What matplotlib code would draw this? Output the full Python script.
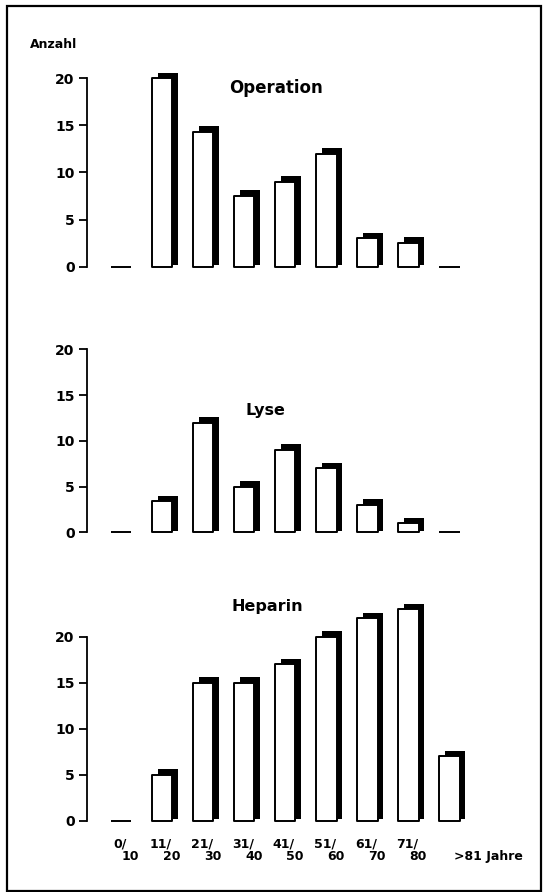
import numpy as np
import matplotlib
matplotlib.use("Agg")
import matplotlib.pyplot as plt
from matplotlib.patches import Rectangle

plt.rcParams.update({
    "font.family": "DejaVu Sans",
    "font.weight": "bold",
    "font.size": 9,
})

# ---- data (Anzahl per age group) ----
age_top = ["0/", "11/", "21/", "31/", "41/", "51/", "61/", "71/", ""]
age_bot = ["10", "20", "30", "40", "50", "60", "70", "80", ">81 Jahre"]
operation = [0, 20, 14.3, 7.5, 9, 12, 3, 2.5, 0]
lyse = [0, 3.4, 12, 5, 9, 7, 3, 1, 0]
heparin = [0, 5, 15, 15, 17, 20, 22, 23, 7]

W_PX, H_PX = 543, 892
fig = plt.figure(figsize=(W_PX / 100, H_PX / 100), dpi=100)

# outer frame
fig.patches.append(Rectangle((7 / W_PX, 1 / H_PX), 534 / W_PX, 885 / H_PX,
                             transform=fig.transFigure, fill=False,
                             edgecolor="black", linewidth=1.6))

LEFT_PX, RIGHT_PX = 87, 474


def panel(zero_px, twenty_px, values, title, title_xy, title_size=12):
    ax = fig.add_axes([LEFT_PX / W_PX, 1 - zero_px / H_PX,
                       (RIGHT_PX - LEFT_PX) / W_PX, (zero_px - twenty_px) / H_PX])
    vals = np.array(values, dtype=float)
    x = np.arange(len(vals))
    nz = vals > 0
    # black shadow, offset up and to the right
    sh = ax.bar(x[nz] + 0.14, vals[nz] + 0.45, width=0.5, bottom=0.15,
                color="black", clip_on=False, zorder=2)
    fr = ax.bar(x, vals, width=0.5, facecolor="white", edgecolor="black",
                linewidth=1.4, clip_on=False, zorder=3)
    for p in list(sh) + list(fr):
        p.set_joinstyle("round")
    ax.set_xlim(-0.83, 8.6)
    ax.set_ylim(0, 20)
    ax.set_yticks([0, 5, 10, 15, 20])
    ax.set_xticks([])
    for s in ["top", "right", "bottom"]:
        ax.spines[s].set_visible(False)
    ax.spines["left"].set_linewidth(1.3)
    ax.tick_params(axis="y", direction="out", length=6, width=1.3,
                   labelsize=10, pad=3)
    for lab in ax.get_yticklabels():
        lab.set_fontweight("bold")
    ax.patch.set_alpha(0)
    fig.text(title_xy[0] / W_PX, 1 - title_xy[1] / H_PX, title,
             ha="center", va="center", fontsize=title_size, fontweight="bold")
    return ax


panel(266.7, 78.3, operation, "Operation", (276, 88))
panel(532.3, 349.3, lyse, "Lyse", (265, 410), 11.5)
ax3 = panel(820.7, 636.7, heparin, "Heparin", (267, 607), 11.5)

for i, (t, b) in enumerate(zip(age_top, age_bot)):
    if t:
        ax3.annotate(t, xy=(i, 0), xycoords=("data", "axes fraction"),
                     xytext=(-1, -17), textcoords="offset points",
                     ha="center", va="center", fontsize=9, fontweight="bold")
        ax3.annotate(b, xy=(i, 0), xycoords=("data", "axes fraction"),
                     xytext=(7, -26), textcoords="offset points",
                     ha="center", va="center", fontsize=9, fontweight="bold")
    else:
        ax3.annotate(b, xy=(i, 0), xycoords=("data", "axes fraction"),
                     xytext=(3, -26), textcoords="offset points",
                     ha="left", va="center", fontsize=9, fontweight="bold")

fig.text(30 / W_PX, 1 - 44 / H_PX, "Anzahl", ha="left", va="center",
         fontsize=9, fontweight="bold")

fig.savefig("out.png", dpi=100, facecolor="white")
